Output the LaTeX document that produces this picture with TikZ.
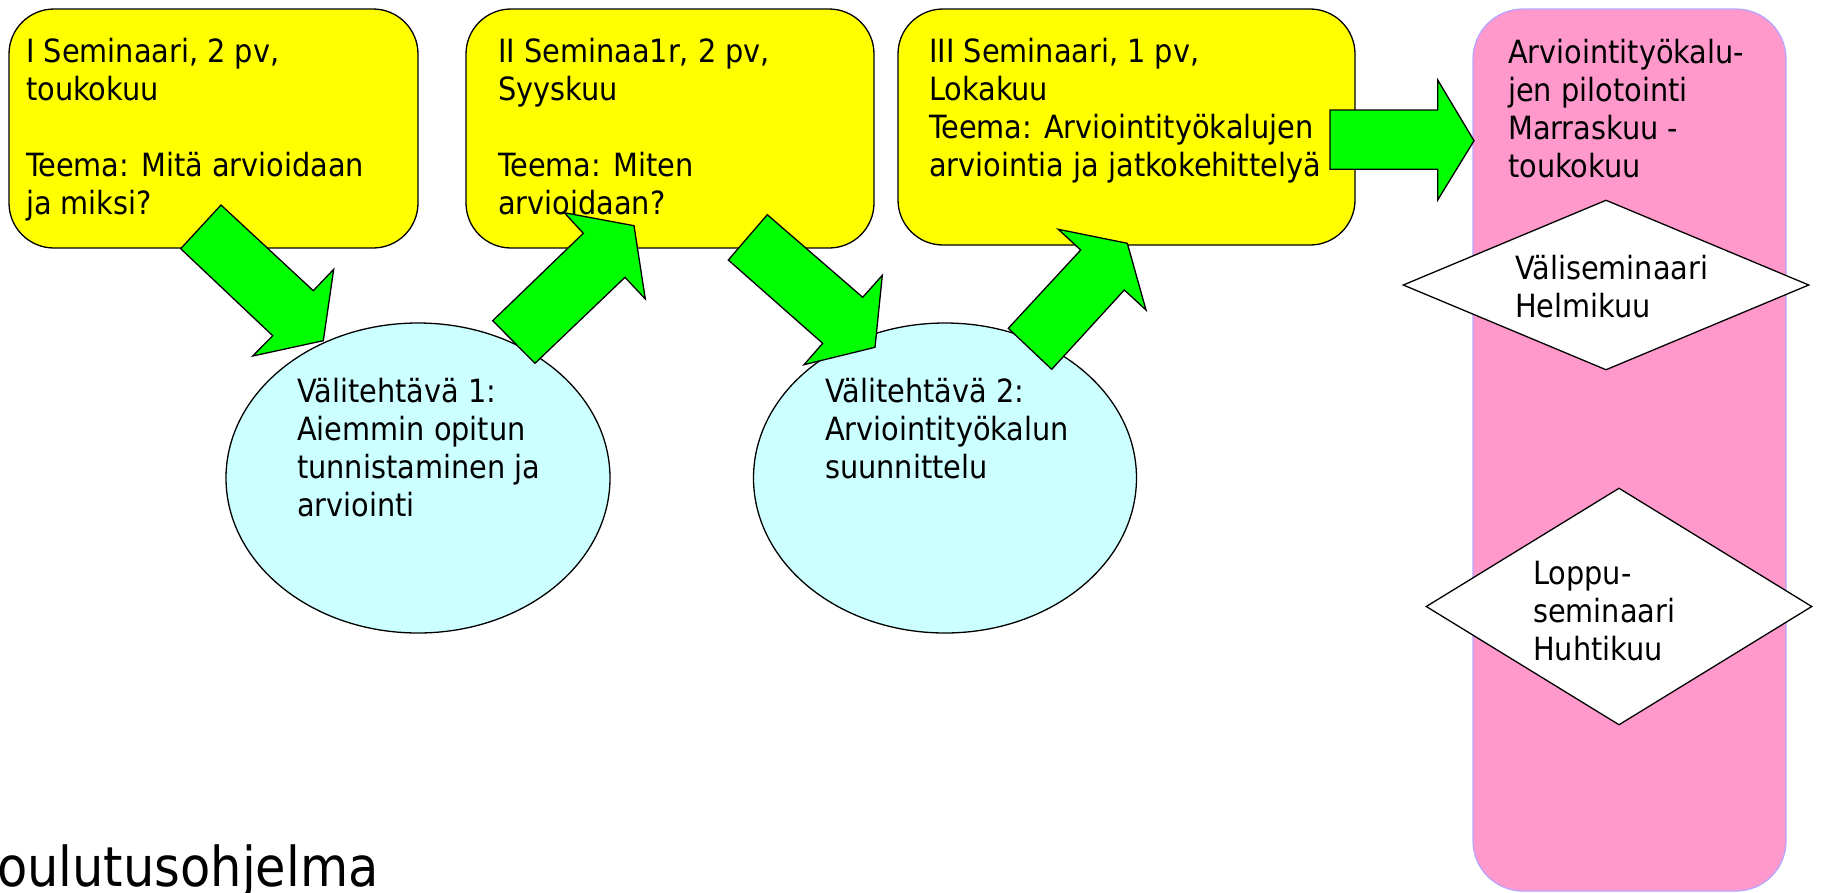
\documentclass[tikz,border=0pt]{standalone}
\usepackage{fontspec}
\setmainfont{DejaVu Sans Condensed}
\usetikzlibrary{shapes.geometric}
\definecolor{yel}{HTML}{FFFF00}
\definecolor{grn}{HTML}{00FF00}
\definecolor{cyn}{HTML}{CCFFFF}
\definecolor{pnk}{HTML}{FF99CC}
\definecolor{lav}{HTML}{B4A4FF}
\begin{document}
\begin{tikzpicture}[x=1pt,y=-1pt,
  seminar/.style={draw=black, line width=1.3pt, fill=yel, rounded corners=45pt, inner sep=0pt},
  column/.style={draw=lav, line width=1.2pt, fill=pnk, rounded corners=50pt, inner sep=0pt},
  task/.style={ellipse, draw=black, line width=1.3pt, fill=cyn, inner sep=0pt},
  milestone/.style={diamond, draw=black, line width=1.3pt, fill=white, inner sep=0pt},
  blockarrow/.style={draw=black, line width=1.3pt, fill=grn, line join=miter},
  txt/.style={anchor=base west, align=left, inner sep=0pt, font=\fontsize{32}{38}\selectfont}]
\useasboundingbox (0,0) rectangle (1822,892);

% shapes
\node[column, minimum width=313pt, minimum height=882pt] (pilot) at (1629.5,450) {};
\node[seminar, minimum width=409pt, minimum height=239pt] (s1) at (213.5,128.5) {};
\node[seminar, minimum width=408pt, minimum height=239pt] (s2) at (670,128.5) {};
\node[seminar, minimum width=457pt, minimum height=236pt] (s3) at (1126.5,127) {};
\node[task, minimum width=384pt, minimum height=310pt] (v1) at (418,478) {};
\node[task, minimum width=383pt, minimum height=310pt] (v2) at (945,478) {};
\node[milestone, minimum width=406pt, minimum height=170pt] (m1) at (1606,285) {};
\node[milestone, minimum width=386pt, minimum height=237pt] (m2) at (1619,606.5) {};

% block arrows
\draw[blockarrow] (221,205) -- (313.3,290.7) -- (333.7,269.3) -- (323.3,340.7) -- (252.7,356) -- (272.7,335.7) -- (180.7,248.7) -- cycle;
\draw[blockarrow] (492.7,320.7) -- (583.3,233.3) -- (564.3,212.7) -- (634,225.7) -- (645.3,299) -- (625,277.3) -- (535,363.3) -- cycle;
\draw[blockarrow] (767.3,214.7) -- (862.7,297.3) -- (882.3,275.3) -- (875,347.3) -- (804,364.7) -- (822.7,343.3) -- (728.3,260) -- cycle;
\draw[blockarrow] (1008.3,328.3) -- (1080.7,250) -- (1058.3,229.3) -- (1127.3,243.3) -- (1146,310) -- (1124.3,290) -- (1051.7,369.3) -- cycle;
\draw[blockarrow] (1330,110) -- (1437.7,110) -- (1437.7,80) -- (1474,140.7) -- (1437.7,200) -- (1437.7,169.3) -- (1330,169.3) -- cycle;

% texts (anchored at the baseline of their last line)
\node[txt] (t1) at (26,214) {I Seminaari, 2 pv,\\toukokuu\\[38pt]Teema: Mitä arvioidaan\\ja miksi?};
\node[txt] (t2) at (498,214) {II Seminaa1r, 2 pv,\\Syyskuu\\[38pt]Teema: Miten\\arvioidaan?};
\node[txt] (t3) at (929,176) {III Seminaari, 1 pv,\\Lokakuu\\Teema: Arviointityökalujen\\arviointia ja jatkokehittelyä};
\node[txt] (tp) at (1508,177) {Arviointityökalu-\\jen pilotointi\\Marraskuu -\\toukokuu};
\node[txt] (tm1) at (1515,317) {Väliseminaari\\Helmikuu};
\node[txt] (tm2) at (1533,660) {Loppu-\\seminaari\\Huhtikuu};
\node[txt] (tv1) at (297,516) {Välitehtävä 1:\\Aiemmin opitun\\tunnistaminen ja\\arviointi};
\node[txt] (tv2) at (825,478) {Välitehtävä 2:\\Arviointityökalun\\suunnittelu};
\node[anchor=base west, inner sep=0pt, font=\fontsize{55}{62}\selectfont] (title) at (-3,886) {oulutusohjelma};
\end{tikzpicture}
\end{document}
